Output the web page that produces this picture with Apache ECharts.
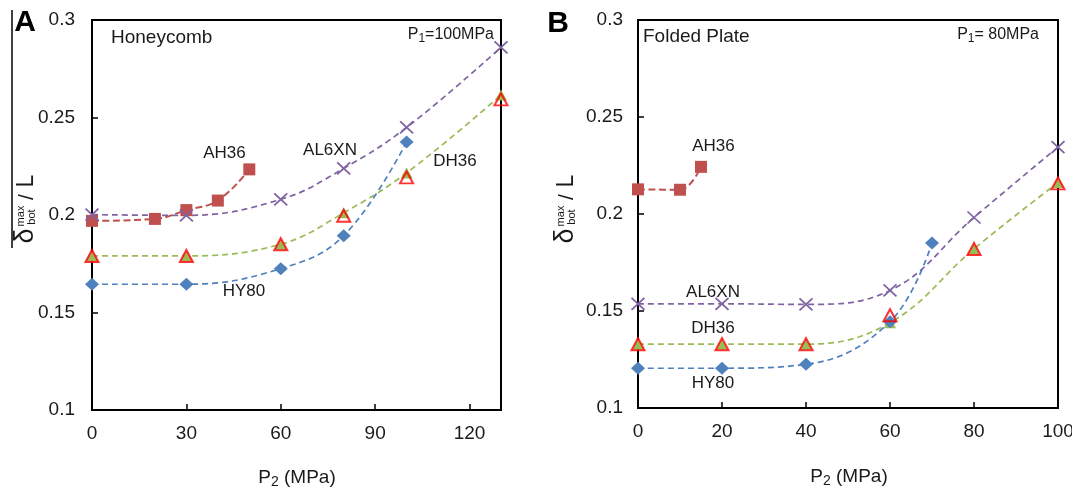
<!DOCTYPE html>
<html><head><meta charset="utf-8">
<script src="https://cdn.jsdelivr.net/npm/echarts@6/dist/echarts.min.js"></script>
<style>html,body{margin:0;padding:0;background:#fff}#c{width:1072px;height:488px}</style>
</head><body><div id="c"></div>
<script>
// ---------- Panel A : Honeycomb, P1 = 100 MPa ----------
const ah36A    = [[0,0.197],[20,0.198],[30,0.2025],[40,0.2074],[50,0.2234]];
const al6xnA   = [[0,0.2002],[30,0.1998],[60,0.208],[80,0.2239],[100,0.2449],[130,0.286]];
const dh36A    = [[0,0.179],[30,0.179],[60,0.185],[80,0.2011],[100,0.2216],[130,0.2615]];
const dh36RedA = [[0,0.179],[30,0.179],[60,0.185],[80,0.1996],[100,0.2193],[130,0.2593]];
const hy80A    = [[0,0.1645],[30,0.1645],[60,0.1725],[80,0.1894],[100,0.2374]];
// ---------- Panel B : Folded Plate, P1 = 80 MPa ----------
const ah36B    = [[0,0.2127],[10,0.2125],[15,0.2243]];
const al6xnB   = [[0,0.1537],[20,0.1537],[40,0.1534],[60,0.1606],[80,0.1982],[100,0.2345]];
const dh36B    = [[0,0.1329],[20,0.1329],[40,0.1329],[60,0.144],[80,0.182],[100,0.2162]];
const dh36RedB = [[0,0.1329],[20,0.1329],[40,0.1329],[60,0.1478],[80,0.182],[100,0.2158]];
const hy80B    = [[0,0.1205],[20,0.1205],[40,0.1225],[60,0.1445],[70,0.185]];
// axes
const xMaxA = 130, xStepA = 30;
const xMaxB = 100, xStepB = 20;
const yMin = 0.1, yMax = 0.3, yStep = 0.05;

const FONT = '"Liberation Sans", Arial, sans-serif';
const TXT = '#1a1a1a';
const C = {ah:'#C0504D', al:'#8064A2', dh:'#9BBB59', hy:'#4F81BD', red:'#FF0000'};
const XPATH = 'path://M0,0L10,10M10,0L0,10';

function xAx(gi, max, step){
  return {type:'value', gridIndex:gi, min:0, max:max, interval:step,
    axisLine:{show:true, onZero:false, lineStyle:{color:'#000', width:2}},
    axisTick:{show:true, inside:true, length:6, lineStyle:{color:'#000', width:1.5}},
    axisLabel:{color:TXT, fontSize:19, fontFamily:FONT, margin:14, showMinLabel:true, showMaxLabel: max % step === 0},
    splitLine:{show:false}};
}
function yAx(gi, margin){
  return {type:'value', gridIndex:gi, min:yMin, max:yMax, interval:yStep,
    axisLine:{show:true, onZero:false, lineStyle:{color:'#000', width:2}},
    axisTick:{show:true, inside:true, length:6, lineStyle:{color:'#000', width:1.5}},
    axisLabel:{color:TXT, fontSize:19, fontFamily:FONT, margin:margin},
    splitLine:{show:false}};
}
function line(name, data, gi, color, symbol, size, item, ls, z){
  return {name:name, type:'line', xAxisIndex:gi, yAxisIndex:gi, data:data,
    smooth:0.4, symbol:symbol, symbolSize:size, showSymbol:true, showAllSymbol:true,
    itemStyle:Object.assign({color:color}, item||{}),
    lineStyle:Object.assign({color:color, width:1.7, type:[6,4]}, ls||{}),
    z:z||2, animation:false};
}
function redTri(name, data, gi){
  return {name:name, type:'scatter', xAxisIndex:gi, yAxisIndex:gi, data:data,
    symbol:'triangle', symbolSize:[13,12],
    itemStyle:{color:'rgba(255,255,255,0)', borderColor:C.red, borderWidth:2},
    z:5, animation:false};
}
function seriesFor(gi, ah, al, dh, dhr, hy){
  return [
    line('AH36', ah, gi, C.ah, 'rect', 12, null, {width:2, type:[7,3.5]}, 3),
    line('AL6XN', al, gi, C.al, XPATH, [13,12], {color:C.al, borderColor:C.al, borderWidth:1.7}, null, 3),
    line('DH36', dh, gi, C.dh, 'triangle', [12,11], null, null, 3),
    redTri('DH36 ', dhr, gi),
    line('HY80', hy, gi, C.hy, 'diamond', [14,13], null, null, 4)
  ];
}
function t(text, x, y, size, align, extra){
  return Object.assign({type:'text', x:x, y:y, z:20, style:{text:text, font: size+'px '+FONT, fill:TXT,
    align:align||'center', verticalAlign:'middle', textAlign:align||'center', textVerticalAlign:'middle'}}, extra||{});
}
function rich(text, x, y, size, align){
  return {type:'text', x:x, y:y, z:20, style:{text:text, fill:TXT, align:align, verticalAlign:'middle',
    textAlign:align, textVerticalAlign:'middle',
    rich:{a:{fontSize:size, fontFamily:FONT, fill:TXT, lineHeight:size+4},
          s:{fontSize:Math.round(size*0.72), fontFamily:FONT, fill:TXT, lineHeight:Math.round(size*0.8), verticalAlign:'bottom'}}}};
}
function yTitle(x0){
  const sty = (txt, sz) => ({text:txt, font: sz+'px '+FONT, fill:TXT, align:'center', verticalAlign:'middle', textAlign:'center', textVerticalAlign:'middle'});
  return {type:'group', x:x0, y:245, rotation:Math.PI/2, z:20, children:[
    {type:'text', x:9, y:-1, style:sty('δ', 27)},
    {type:'text', x:29, y:-6, style:sty('max', 11)},
    {type:'text', x:28, y:5, style:sty('bot', 11)},
    {type:'text', x:48, y:0, style:sty('/', 21)},
    {type:'text', x:64, y:0, style:sty('L', 23)}
  ]};
}

const chart = echarts.init(document.getElementById('c'), null, {renderer:'canvas'});
chart.setOption({
  backgroundColor:'#fff',
  animation:false,
  grid:[
    {left:92, top:20, width:409, height:390, show:true, borderColor:'#000', borderWidth:2, backgroundColor:'transparent', containLabel:false, outerBoundsMode:'none'},
    {left:638, top:20, width:420, height:388, show:true, borderColor:'#000', borderWidth:2, backgroundColor:'transparent', containLabel:false, outerBoundsMode:'none'}
  ],
  xAxis:[xAx(0, xMaxA, xStepA), xAx(1, xMaxB, xStepB)],
  yAxis:[yAx(0, 17), yAx(1, 15)],
  series: seriesFor(0, ah36A, al6xnA, dh36A, dh36RedA, hy80A)
    .concat(seriesFor(1, ah36B, al6xnB, dh36B, dh36RedB, hy80B)),
  graphic:[
    {type:'line', shape:{x1:12, y1:10, x2:12, y2:248}, style:{stroke:'#000', lineWidth:1.5}, z:20},
    t('A', 25, 23, 30, 'center', {style:{text:'A', font:'bold 30px '+FONT, fill:'#000', align:'center', verticalAlign:'middle', textAlign:'center', textVerticalAlign:'middle'}}),
    t('B', 558, 24, 30, 'center', {style:{text:'B', font:'bold 30px '+FONT, fill:'#000', align:'center', verticalAlign:'middle', textAlign:'center', textVerticalAlign:'middle'}}),
    t('Honeycomb', 111, 38, 19, 'left'),
    t('Folded Plate', 643, 37, 19, 'left'),
    rich('{a|P}{s|1}{a|=100MPa}', 494, 35, 16, 'right'),
    rich('{a|P}{s|1}{a|= 80MPa}', 1039, 35, 16, 'right'),
    t('AH36', 224.5, 153, 17),
    t('AL6XN', 330, 150, 17),
    t('DH36', 455, 161.5, 17),
    t('HY80', 244, 291.5, 17),
    t('AH36', 713.5, 146.5, 17),
    t('AL6XN', 713, 292, 17),
    t('DH36', 713, 328, 17),
    t('HY80', 713, 383, 17),
    rich('{a|P}{s|2}{a| (MPa)}', 297, 478, 19, 'center'),
    rich('{a|P}{s|2}{a| (MPa)}', 849, 477, 19, 'center'),
    yTitle(27),
    yTitle(567)
  ]
});
</script>
</body></html>
